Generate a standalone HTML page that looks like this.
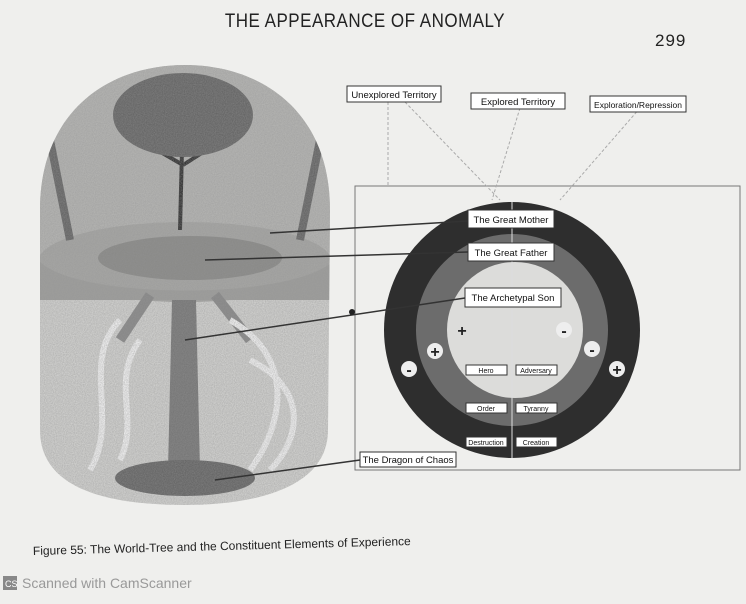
<!DOCTYPE html>
<html><head><style>
body{margin:0;width:746px;height:599px;background:#efefed;overflow:hidden;font-family:"Liberation Sans",sans-serif;}
</style></head><body>
<svg width="746" height="599" xmlns="http://www.w3.org/2000/svg">
<defs>
<filter id="n"><feTurbulence type="fractalNoise" baseFrequency="0.9" numOctaves="2"/><feColorMatrix values="0 0 0 0 0.3 0 0 0 0 0.3 0 0 0 0 0.3 0 0 0 -1.4 1.1"/></filter>
<clipPath id="cap"><path d="M40,210 C40,110 110,65 185,65 C260,65 330,110 330,210 L328,430 C328,490 250,505 185,505 C110,505 40,490 40,430 Z"/></clipPath>
</defs>
<rect width="746" height="599" fill="#efefed"/>
<text x="365" y="27" font-family="Liberation Sans Narrow,Liberation Sans,sans-serif" font-size="17" text-anchor="middle" fill="#222" letter-spacing="0.5" transform="translate(0,-4) scale(1,1.15)">THE APPEARANCE OF ANOMALY</text>
<text x="655" y="46" font-size="17" fill="#222" letter-spacing="1">299</text>
<!-- tree capsule -->
<g clip-path="url(#cap)">
<rect x="36" y="62" width="298" height="446" fill="#cfcfcd"/>
<path d="M40,60 L330,60 L330,260 L40,260 Z" fill="#b3b3b1"/>
<ellipse cx="185" cy="262" rx="147" ry="40" fill="#a5a5a3"/>
<ellipse cx="190" cy="258" rx="92" ry="22" fill="#8a8a88"/>
<path d="M40,262 C80,300 290,300 332,262 L332,300 L40,300 Z" fill="#9d9d9b"/>
<path d="M180,230 L183,110 M183,140 L150,100 M183,140 L220,95 M183,165 L140,140 M183,165 L230,135" stroke="#333" stroke-width="4" fill="none"/>
<ellipse cx="183" cy="115" rx="70" ry="42" fill="#666"/>
<path d="M40,90 L70,240 M330,90 L300,240" stroke="#666" stroke-width="8"/>
<path d="M172,300 L168,470 L200,470 L196,300 Z" fill="#777"/>
<path d="M150,295 L120,340 M215,295 L250,340" stroke="#888" stroke-width="10"/>
<path d="M120,320 C80,360 120,420 90,470 M230,320 C300,360 280,430 250,470 M140,340 C110,380 140,420 120,460 M250,360 C310,390 300,440 270,470" stroke="#eee" stroke-width="6" fill="none"/>
<ellipse cx="185" cy="478" rx="70" ry="18" fill="#666"/>
<rect x="36" y="62" width="298" height="446" filter="url(#n)" opacity="0.55"/>
</g>
<!-- frame -->
<rect x="355" y="186" width="385" height="284" fill="none" stroke="#777" stroke-width="1"/>
<g stroke="#aaa" stroke-width="1" stroke-dasharray="3,2">
<line x1="388" y1="102" x2="388" y2="186"/><line x1="520" y1="108" x2="492" y2="200"/><line x1="640" y1="108" x2="560" y2="200"/><line x1="405" y1="102" x2="500" y2="200"/></g>
<!-- circles -->
<circle cx="512" cy="330" r="128" fill="#2e2e2e"/>
<circle cx="512" cy="330" r="96" fill="#6c6c6c"/>
<circle cx="515" cy="330" r="68" fill="#dcdcda"/>
<line x1="512" y1="202" x2="512" y2="458" stroke="#ddd" stroke-width="1"/>
<g font-size="16" font-weight="bold" text-anchor="middle">
<circle cx="409" cy="369" r="8" fill="#eee"/><text x="409" y="375" fill="#222">-</text>
<circle cx="435" cy="351" r="8" fill="#eee"/><text x="435" y="357" fill="#222">+</text>
<text x="462" y="336" fill="#222">+</text>
<circle cx="564" cy="330" r="8" fill="#eee"/><text x="564" y="336" fill="#222">-</text>
<circle cx="592" cy="349" r="8" fill="#eee"/><text x="592" y="355" fill="#222">-</text>
<circle cx="617" cy="369" r="8" fill="#eee"/><text x="617" y="375" fill="#222">+</text>
</g>
<g stroke="#333" stroke-width="1.5"><line x1="270" y1="233" x2="468" y2="221"/><line x1="205" y1="260" x2="468" y2="252"/><line x1="185" y1="340" x2="465" y2="298"/><line x1="215" y1="480" x2="360" y2="460"/></g>
<circle cx="352" cy="312" r="3" fill="#222"/>
<g font-size="9.5" fill="#111">
<rect x="468" y="210" width="86" height="18" fill="#fff" stroke="#333"/><text x="511" y="223" text-anchor="middle">The Great Mother</text>
<rect x="468" y="243" width="86" height="18" fill="#fff" stroke="#333"/><text x="511" y="256" text-anchor="middle">The Great Father</text>
<rect x="465" y="288" width="96" height="19" fill="#fff" stroke="#333"/><text x="513" y="301" text-anchor="middle">The Archetypal Son</text>
<rect x="360" y="452" width="96" height="15" fill="#fff" stroke="#333"/><text x="408" y="463" text-anchor="middle">The Dragon of Chaos</text>
<rect x="347" y="86" width="94" height="16" fill="#fff" stroke="#333"/><text x="394" y="98" text-anchor="middle">Unexplored Territory</text>
<rect x="471" y="93" width="94" height="16" fill="#fff" stroke="#333"/><text x="518" y="105" text-anchor="middle">Explored Territory</text>
<rect x="590" y="96" width="96" height="16" fill="#fff" stroke="#333"/><text x="638" y="108" text-anchor="middle" font-size="8.5">Exploration/Repression</text>
</g>
<g font-size="7" fill="#111" text-anchor="middle">
<rect x="466" y="365" width="41" height="10" fill="#fff" stroke="#333"/><text x="486" y="373">Hero</text>
<rect x="516" y="365" width="41" height="10" fill="#fff" stroke="#333"/><text x="536" y="373">Adversary</text>
<rect x="466" y="403" width="41" height="10" fill="#fff" stroke="#333"/><text x="486" y="411">Order</text>
<rect x="516" y="403" width="41" height="10" fill="#fff" stroke="#333"/><text x="536" y="411">Tyranny</text>
<rect x="466" y="437" width="41" height="10" fill="#fff" stroke="#333"/><text x="486" y="445">Destruction</text>
<rect x="516" y="437" width="41" height="10" fill="#fff" stroke="#333"/><text x="536" y="445">Creation</text>
</g>
<text x="33" y="555" font-size="12" fill="#222" transform="rotate(-1.5 33 555)">Figure 55: The World-Tree and the Constituent Elements of Experience</text>
<rect x="3" y="576" width="14" height="14" fill="#888"/><text x="5" y="587" font-size="9" fill="#fff">CS</text>
<text x="22" y="588" font-size="14" fill="#999">Scanned with CamScanner</text>
</svg>
</body></html>
